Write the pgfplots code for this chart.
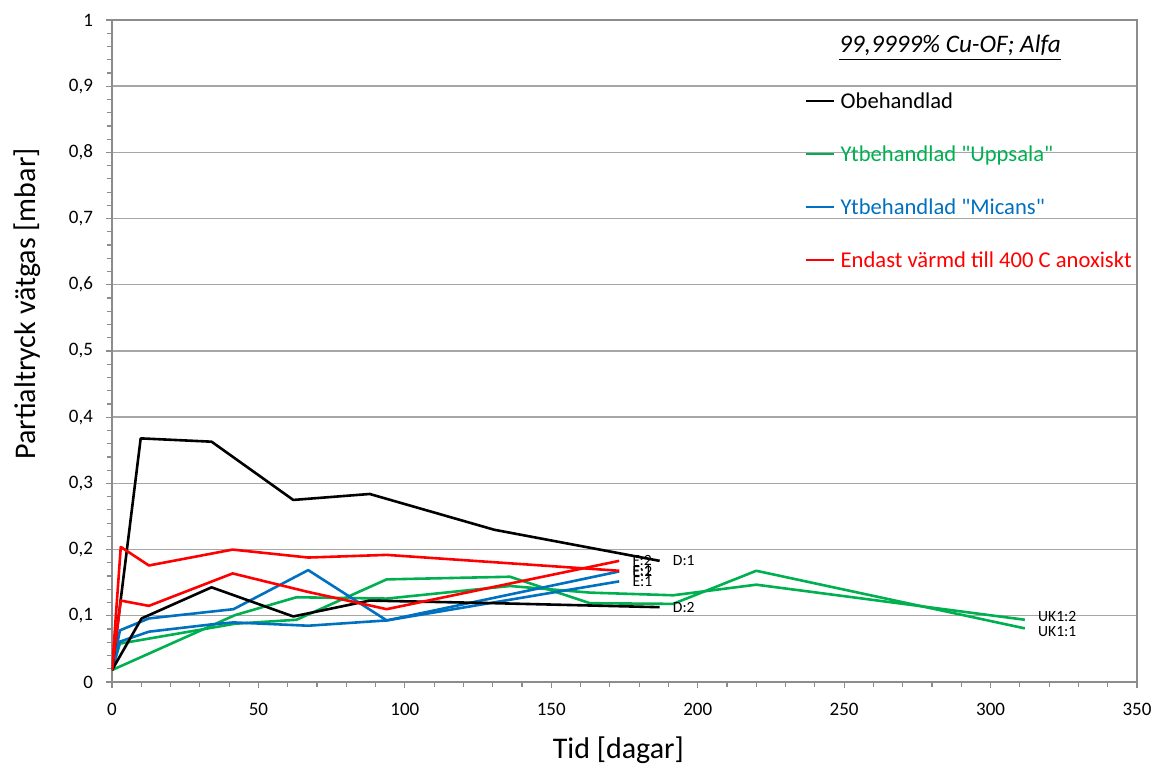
\documentclass[border=0pt]{standalone}
\usepackage{pgfplots}
\pgfplotsset{compat=1.18}
\usepackage{fontspec}
\setmainfont{Carlito}
\newfontfamily\lgfont{Carlito}
\definecolor{xgreen}{HTML}{00B050}
\definecolor{xblue}{HTML}{0070C0}
\definecolor{xred}{HTML}{FF0000}
\definecolor{xgrid}{HTML}{A6A6A6}
\definecolor{xaxis}{HTML}{8C8C8C}
\begin{document}
\begin{tikzpicture}
\begin{axis}[
  at={(0,0)}, anchor=south west,
  scale only axis, width=512.5pt, height=331pt,
  xmin=0, xmax=350, ymin=0, ymax=1,
  xtick={0,50,...,350}, minor x tick num=4,
  ytick={0,0.1,0.2,0.3,0.4,0.5,0.6,0.7,0.8,0.9,1}, minor y tick num=4,
  tick align=outside, tick pos=left,
  major tick length=3pt, minor tick length=2.5pt,
  every tick/.style={xaxis, line width=0.6pt},
  axis line style={draw=xaxis, line width=0.7pt},
  ymajorgrids, grid style={xgrid, line width=0.7pt},
  /pgf/number format/assume math mode=true,
  yticklabel style={/pgf/number format/use comma, /pgf/number format/fixed, /pgf/number format/precision=1, xshift=-3pt},
  ticklabel style={font=\fontsize{9.5}{11}\selectfont},
  xticklabel style={yshift=-4pt},
  xlabel={Tid [dagar]}, ylabel={Partialtryck vätgas [mbar]},
  label style={font=\fontsize{15}{18}\selectfont},
  xlabel style={at={(axis description cs:0.494,-0.1027)}, anchor=center},
  ylabel style={at={(axis description cs:-0.083,0.571)}, anchor=center},
  legend style={at={(axis description cs:0.676,0.891)}, anchor=north west,
    draw=none, fill=none, inner sep=0pt, row sep=16pt, column sep=2.5pt,
    nodes={inner sep=0pt, text height=8pt, text depth=2.5pt,
      font=\lgfont\fontsize{11.3}{13}\selectfont, anchor=west}},
  legend cell align=left,
  legend image code/.code={\draw[#1, line width=1.2pt] (0pt,1pt) -- (14pt,1pt);},
]
\addlegendimage{black}
\addlegendentry{Obehandlad}
\addlegendimage{xgreen}
\addlegendentry{\textcolor{xgreen}{Ytbehandlad "Uppsala"}}
\addlegendimage{xblue}
\addlegendentry{\textcolor{xblue}{Ytbehandlad "Micans"}}
\addlegendimage{xred}
\addlegendentry{\textcolor{xred}{Endast värmd till 400 C anoxiskt}}

\pgfplotsset{every axis plot/.append style={line width=1.3pt, line join=round}}
\tikzset{lab/.style={anchor=west, xshift=5pt, font=\fontsize{7.8}{9}\selectfont, text=black, inner sep=1pt}}

% Green UK1:1 and UK1:2
\addplot[xgreen, forget plot] coordinates {(0,0.018) (2.7,0.058) (42,0.088) (63,0.094) (93.8,0.155) (135.9,0.159) (163.2,0.119) (191.6,0.118) (220,0.168) (311.7,0.081)}
  node[lab, pos=1, yshift=-1.5pt] {UK1:1};
\addplot[xgreen, forget plot] coordinates {(0,0.018) (42,0.101) (63,0.128) (93.8,0.126) (135.9,0.145) (163.2,0.135) (191.6,0.131) (220,0.147) (311.7,0.094)}
  node[lab, pos=1, yshift=1.5pt] {UK1:2};

% Blue E:1 and E:2
\addplot[xblue, forget plot] coordinates {(0,0.018) (2.7,0.078) (12.6,0.096) (41.5,0.110) (67,0.169) (93.8,0.093) (173.2,0.152)}
  node[lab, pos=1] {E:1};
\addplot[xblue, forget plot] coordinates {(0,0.018) (2.7,0.061) (12.6,0.076) (34,0.087) (41.5,0.090) (67,0.085) (93.8,0.093) (173.2,0.167)}
  node[lab, pos=1] {E:2};

% Black D:1 and D:2
\addplot[black, forget plot] coordinates {(0,0.018) (9.8,0.368) (34,0.363) (61.9,0.275) (88,0.284) (130.5,0.230) (187,0.183)}
  node[lab, pos=1] {D:1};
\addplot[black, forget plot] coordinates {(0,0.018) (10.1,0.096) (34,0.143) (61.9,0.099) (88,0.123) (131,0.119) (187,0.113)}
  node[lab, pos=1] {D:2};

% Red F:1 and F:2
\addplot[xred, forget plot] coordinates {(0,0.018) (3,0.204) (12.6,0.176) (41.2,0.200) (67,0.188) (93.8,0.192) (173.2,0.168)}
  node[lab, pos=1] {F:1};
\addplot[xred, forget plot] coordinates {(0,0.018) (3,0.123) (12.6,0.115) (41.2,0.164) (67,0.136) (93.8,0.110) (173.2,0.183)}
  node[lab, pos=1] {F:2};

\draw[xaxis, line width=0.7pt] (rel axis cs:1,0) -- (rel axis cs:1,1);
\node[font=\fontsize{12.6}{15}\selectfont\itshape] at (axis description cs:0.8176,0.958) {\underline{99,9999\% Cu-OF; Alfa}};
\end{axis}
\pgfresetboundingbox
\useasboundingbox (-56pt,-41.5pt) rectangle (520.5pt,341pt);
\end{tikzpicture}
\end{document}
